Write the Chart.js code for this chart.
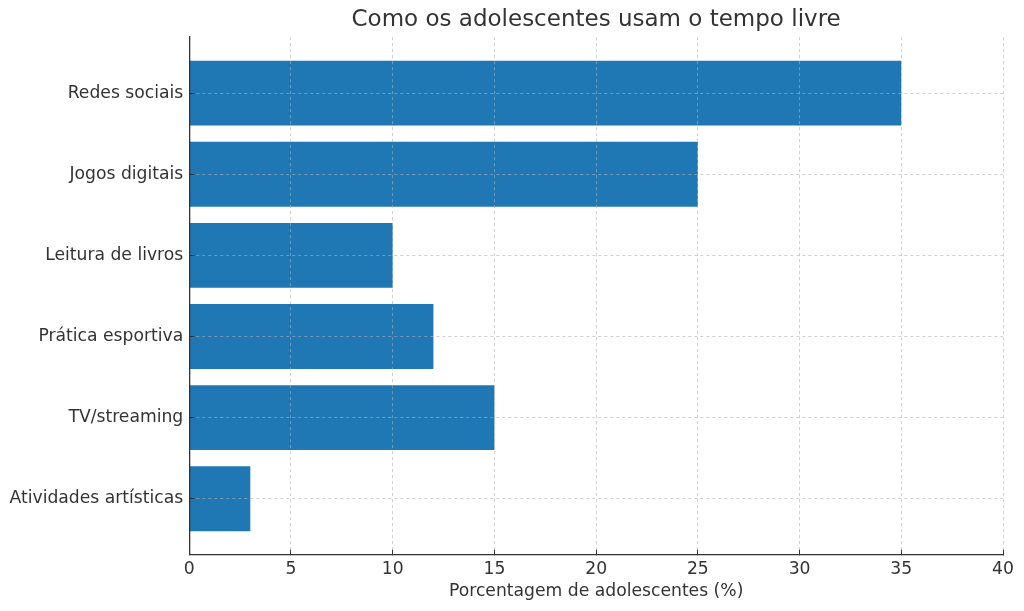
<!DOCTYPE html>
<html>
<head>
<meta charset="utf-8">
<script src="https://cdn.jsdelivr.net/npm/chart.js@4"></script>
<style>
  html, body { margin: 0; padding: 0; background: #ffffff; }
  #wrap { width: 1024px; height: 611px; }
</style>
</head>
<body>
<div id="wrap"><canvas id="chart"></canvas></div>
<script>
// Atividades, de cima para baixo
const categories = [
  'Redes sociais',
  'Jogos digitais',
  'Leitura de livros',
  'Prática esportiva',
  'TV/streaming',
  'Atividades artísticas',
];
const percentages = [35, 25, 10, 12, 15, 3];
const xTicks = [0, 5, 10, 15, 20, 25, 30, 35, 40];

const FONT = "'DejaVu Sans', sans-serif";
const TEXT = '#333333';
const GRID = 'rgba(176, 176, 176, 0.6)';

const points = categories.map((label, index) => ({ x: percentages[index], y: index }));

new Chart(document.getElementById('chart'), {
  type: 'bar',
  data: {
    datasets: [{
      label: 'Porcentagem',
      data: points,
      backgroundColor: '#1f77b4',
      borderWidth: 0,
      categoryPercentage: 1,
      barPercentage: 0.8,
    }],
  },
  options: {
    indexAxis: 'y',
    responsive: true,
    maintainAspectRatio: false,
    animation: false,
    layout: { padding: { left: -1.5, right: 21, top: 0, bottom: 0 } },
    plugins: {
      legend: { display: false },
      tooltip: { enabled: false },
      title: {
        display: true,
        text: 'Como os adolescentes usam o tempo livre',
        fullSize: false,
        color: TEXT,
        font: { family: FONT, size: 23, weight: 'normal' },
        padding: { top: 6, bottom: 3.5 },
      },
    },
    scales: {
      x: {
        type: 'linear',
        min: 0,
        max: 40,
        afterBuildTicks(scale) {
          scale.ticks = xTicks.map((value) => ({ value }));
        },
        // grade por cima das barras, como no original
        grid: {
          z: 1,
          color: GRID,
          offset: false,
          tickLength: -5,
          tickColor: TEXT,
          tickBorderDash: [],
        },
        border: { display: true, z: 1, color: TEXT, width: 1.3, dash: [3, 3] },
        ticks: {
          color: TEXT,
          padding: 9,
          font: { family: FONT, size: 17.2 },
        },
        title: {
          display: true,
          text: 'Porcentagem de adolescentes (%)',
          color: TEXT,
          font: { family: FONT, size: 17.2 },
          padding: { top: -7, bottom: 9 },
        },
      },
      y: {
        type: 'linear',
        reverse: true,
        offset: false,
        min: -0.69,
        max: categories.length - 1 + 0.69,
        afterBuildTicks(scale) {
          scale.ticks = categories.map((label, index) => ({ value: index }));
        },
        grid: {
          z: 1,
          color: GRID,
          offset: false,
          tickLength: -5,
          tickColor: TEXT,
          tickBorderDash: [],
        },
        border: { display: true, z: 1, color: TEXT, width: 1.3, dash: [3, 3] },
        ticks: {
          color: TEXT,
          padding: 11,
          font: { family: FONT, size: 17.2 },
          callback: (value) => categories[value] ?? '',
        },
      },
    },
  },
});
</script>
</body>
</html>
